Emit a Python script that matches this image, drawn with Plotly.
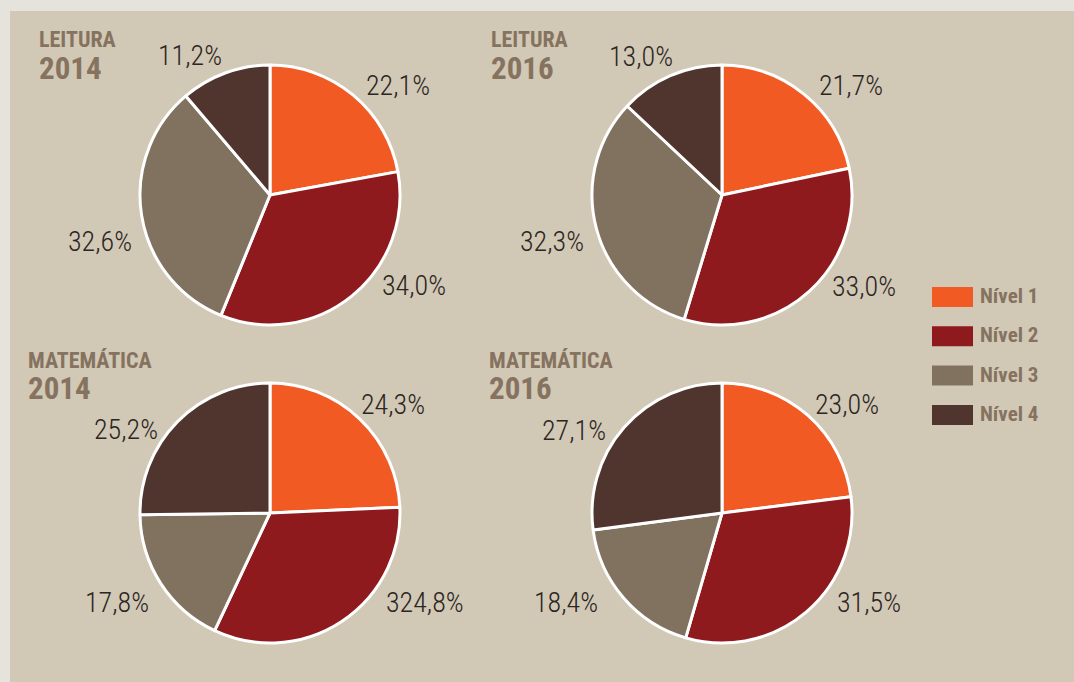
import plotly.graph_objects as go

W, H = 1074, 682

levels = ["Nível 1", "Nível 2", "Nível 3", "Nível 4"]
colors = ["#f15a22", "#8f1a1e", "#817260", "#4f352d"]

leitura_2014 = [22.1, 34.0, 32.6, 11.2]
leitura_2016 = [21.7, 33.0, 32.3, 13.0]
matematica_2014 = [24.3, 32.7, 17.8, 25.2]
matematica_2016 = [23.0, 31.5, 18.4, 27.1]

# labels as printed in the source (including its typo)
labels_l2014 = ["22,1%", "34,0%", "32,6%", "11,2%"]
labels_l2016 = ["21,7%", "33,0%", "32,3%", "13,0%"]
labels_m2014 = ["24,3%", "324,8%", "17,8%", "25,2%"]
labels_m2016 = ["23,0%", "31,5%", "18,4%", "27,1%"]

panels = [
    ("LEITURA", "2014", leitura_2014, labels_l2014, (270, 195),
     [(398, 85), (414, 285), (100, 241), (190, 55)], (37, 40)),
    ("LEITURA", "2016", leitura_2016, labels_l2016, (722, 195),
     [(851, 85), (864, 286), (552, 241), (641, 56)], (489, 40)),
    ("MATEMÁTICA", "2014", matematica_2014, labels_m2014, (270, 513),
     [(393, 404), (425, 602), (117, 602), (126, 429)], (26, 360)),
    ("MATEMÁTICA", "2016", matematica_2016, labels_m2016, (722, 513),
     [(847, 404), (869, 602), (566, 602), (574, 430)], (487, 360)),
]

LABEL_FONT = "Roboto Condensed, Roboto, Liberation Sans, sans-serif"
TITLE_FONT = "Roboto Condensed, Roboto, Liberation Sans, sans-serif"

R = 130
fig = go.Figure()
ann = []
for subj, yr, vals, labs, (cx, cy), lpos, (tx, ty) in panels:
    fig.add_trace(go.Pie(
        labels=levels, values=vals, sort=False, direction="clockwise",
        rotation=0, textinfo="none", hoverinfo="label+percent",
        marker=dict(colors=colors, line=dict(color="white", width=3)),
        domain=dict(x=[(cx - R) / W, (cx + R) / W],
                    y=[1 - (cy + R) / H, 1 - (cy - R) / H]),
        showlegend=False,
    ))
    for t, (px, py) in zip(labs, lpos):
        ann.append(dict(x=px / W, y=1 - py / H, xref="paper", yref="paper",
                        text=t, showarrow=False, xanchor="center", yanchor="middle",
                        font=dict(family=LABEL_FONT, size=28, weight=300,
                                  color="#2a2622")))
    ann.append(dict(x=tx / W, y=1 - ty / H, xref="paper", yref="paper",
                    text=subj, showarrow=False, xanchor="left",
                    yanchor="middle",
                    font=dict(family=TITLE_FONT, size=22, weight=700, color="#85735f")))
    ann.append(dict(x=tx / W, y=1 - (ty + 28) / H, xref="paper", yref="paper",
                    text=yr, showarrow=False, xanchor="left",
                    yanchor="middle",
                    font=dict(family=TITLE_FONT, size=31, weight=700, color="#85735f")))

shapes = [
    dict(type="rect", xref="paper", yref="paper", x0=0, x1=1, y0=1 - 11 / H, y1=1,
         fillcolor="#e6e2dc", line=dict(width=0), layer="above"),
    dict(type="rect", xref="paper", yref="paper", x0=0, x1=10 / W, y0=0, y1=1,
         fillcolor="#e6e2dc", line=dict(width=0), layer="above"),
]

# custom legend
for i, (lev, col) in enumerate(zip(levels, colors)):
    y0 = 287 + i * 39.3
    shapes.append(dict(type="rect", xref="paper", yref="paper",
                       x0=932 / W, x1=973 / W, y0=1 - (y0 + 20) / H, y1=1 - y0 / H,
                       fillcolor=col, line=dict(width=0)))
    ann.append(dict(x=978 / W, y=1 - (y0 + 9) / H, xref="paper", yref="paper",
                    text=lev, showarrow=False, xanchor="left",
                    yanchor="middle",
                    font=dict(family=TITLE_FONT, size=21, weight=700, color="#85735f")))

fig.update_layout(
    width=W, height=H, margin=dict(l=0, r=0, t=0, b=0),
    paper_bgcolor="#d2c8b6", plot_bgcolor="#d2c8b6",
    annotations=ann, shapes=shapes,
)
fig.write_html("out.html", config={"displayModeBar": False},
               post_script="document.body.style.margin='0';document.body.style.overflow='hidden';")
